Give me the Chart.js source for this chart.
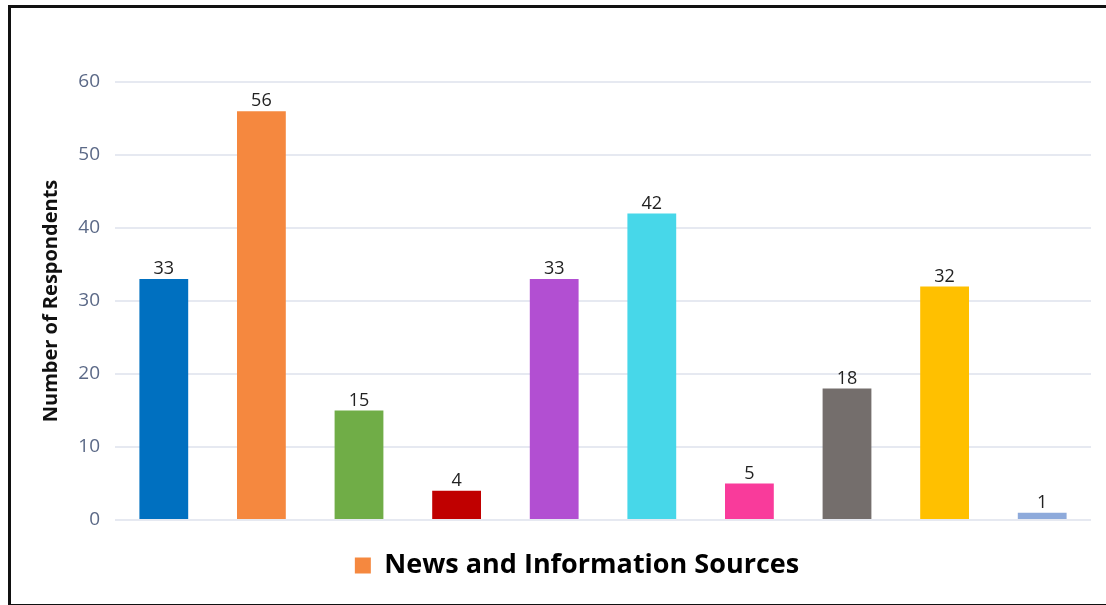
<!DOCTYPE html>
<html>
<head>
<meta charset="utf-8">
<script src="https://cdn.jsdelivr.net/npm/chart.js@4/dist/chart.umd.min.js"></script>
<style>
  html, body { margin: 0; padding: 0; background: #fff; }
  #wrap { position: relative; width: 1106px; height: 605px; overflow: hidden; }
  #chart { position: absolute; left: 0; top: 0; }
  #frame {
    position: absolute; left: 8px; top: 5px; width: 1200px; height: 596px;
    border-left: 3px solid #111; border-top: 3px solid #111; border-bottom: 4px solid #111;
    box-sizing: content-box; pointer-events: none;
  }
</style>
</head>
<body>
<div id="wrap">
  <canvas id="chart" width="1106" height="605"></canvas>
  <div id="frame"></div>
</div>
<script>
// Respondents per news and information source
const categories = [
  'Source A', 'Source B', 'Source C', 'Source D', 'Source E',
  'Source F', 'Source G', 'Source H', 'Source I', 'Source J'
];
const respondents = [33, 56, 15, 4, 33, 42, 5, 18, 32, 1];
const barColors = [
  '#0070c0', '#f5883f', '#70ad47', '#c00000', '#b24fd2',
  '#47d7e9', '#f93b9b', '#746e6c', '#ffc000', '#8eaadb'
];
const yTicks = [0, 10, 20, 30, 40, 50, 60];
const seriesName = 'News and Information Sources';
const seriesColor = '#f5883f';

const FONT = "'Open Sans', 'DejaVu Sans', sans-serif";

// Value labels drawn above each bar
const valueLabels = {
  id: 'valueLabels',
  afterDatasetsDraw(chart) {
    const { ctx } = chart;
    const meta = chart.getDatasetMeta(0);
    ctx.save();
    ctx.font = '18px ' + FONT;
    ctx.fillStyle = '#222222';
    ctx.textAlign = 'center';
    ctx.textBaseline = 'bottom';
    meta.data.forEach((bar, i) => {
      ctx.fillText(String(chart.data.datasets[0].data[i]), bar.x, bar.y - 1);
    });
    ctx.restore();
  }
};

new Chart(document.getElementById('chart'), {
  type: 'bar',
  data: {
    labels: categories,
    datasets: [{
      label: seriesName,
      data: respondents,
      backgroundColor: barColors,
      borderWidth: 0,
      categoryPercentage: 1.0,
      barPercentage: 0.5
    }]
  },
  options: {
    responsive: false,
    animation: false,
    layout: { padding: { left: 63, right: 15, top: 82, bottom: 16 } },
    plugins: {
      tooltip: { enabled: false },
      legend: {
        position: 'bottom',
        labels: {
          boxWidth: 16,
          boxHeight: 16,
          padding: 10,
          color: '#111111',
          font: { family: FONT, size: 27, weight: 'bold' },
          generateLabels: (chart) => [{
            text: seriesName,
            fillStyle: seriesColor,
            strokeStyle: seriesColor,
            lineWidth: 0,
            hidden: false,
            datasetIndex: 0
          }]
        }
      }
    },
    scales: {
      x: {
        display: true,
        afterFit: (scale) => { scale.height = 22; },
        border: { display: false },
        grid: { display: false },
        ticks: { display: false }
      },
      y: {
        min: 0,
        max: 60,
        afterBuildTicks: (scale) => { scale.ticks = yTicks.map(v => ({ value: v })); },
        afterFit: (scale) => { scale.width = 52; },
        border: { display: false },
        grid: { color: '#e6e9f1', lineWidth: 2, drawTicks: false },
        ticks: {
          padding: 15,
          color: '#5b6987',
          font: { family: FONT, size: 19 }
        },
        title: {
          display: true,
          text: 'Number of Respondents',
          color: '#111111',
          padding: { top: -24, bottom: 0 },
          font: { family: FONT, size: 20, weight: 'bold', lineHeight: 1.2 }
        }
      }
    }
  },
  plugins: [valueLabels]
});
</script>
</body>
</html>
